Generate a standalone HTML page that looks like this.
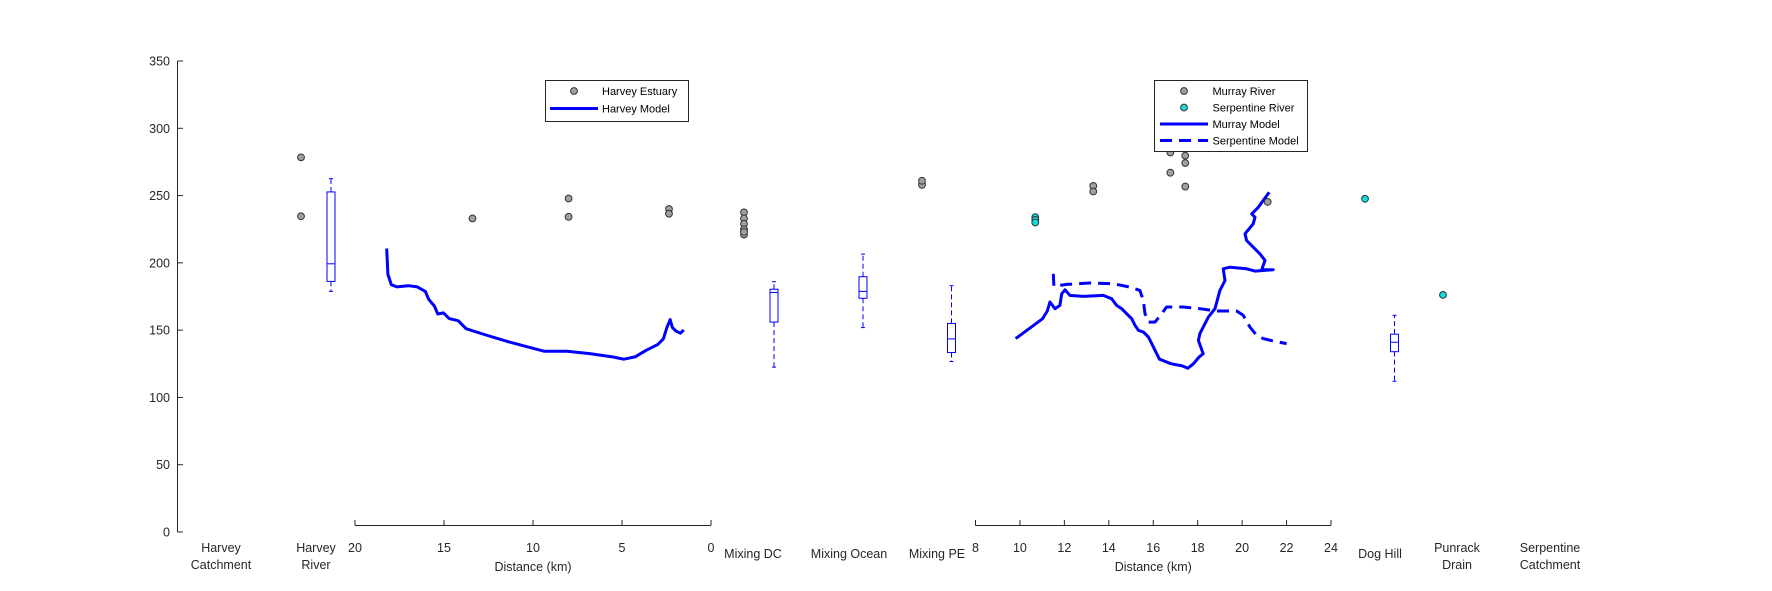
<!DOCTYPE html>
<html><head><meta charset="utf-8">
<style>
body{margin:0;background:#fff;}
svg{display:block;font-family:"Liberation Sans",Arial,sans-serif;}
</style></head>
<body>
<svg id="chart" width="1772" height="591" viewBox="0 0 1772 591" xmlns="http://www.w3.org/2000/svg">
<rect width="1772" height="591" fill="#fff"/>
<g id="axes"></g>
<g id="marks"></g>
<g id="legends"></g>
</svg>
<script>
const yTicks=[0,50,100,150,200,250,300,350];
const leftDistTicks=[20,15,10,5,0];
const rightDistTicks=[8,10,12,14,16,18,20,22,24];
const categoryLabels=[["Harvey","Catchment"],["Harvey","River"],["Mixing DC"],["Mixing Ocean"],["Mixing PE"],["Dog Hill"],["Punrack","Drain"],["Serpentine","Catchment"]];
const categoryX=[221,316,753,849,937,1380,1457,1550];
const harveyEstDist=[13.4,8.0,8.0,2.36,2.36];
const harveyEstVal=[233,247.8,234.2,240,236.5];
const harveyModelDist=[18.22,18.15,17.96,17.64,17.01,16.5,16.05,15.86,15.54,15.35,15.03,14.71,14.2,13.76,13.18,12.55,11.91,11.27,10.32,9.36,8.09,6.82,5.54,4.9,4.27,3.63,2.99,2.68,2.48,2.29,2.17,1.97,1.72,1.53];
const harveyModelVal=[210.7,191.4,183.8,182.1,183,182.1,178.8,172.9,167.9,162,162.8,158.6,157,151.1,148.6,146,143.5,141,137.6,134.3,134.3,132.6,130.1,128.4,130.1,135.1,139.3,143.5,151.9,157.8,151.9,149.4,147.7,150.2];
const murrayDist=[13.3,13.3,16.77,16.77,16.77,17.44,17.44,17.44,17.44,21.15];
const murrayVal=[257.2,253,267,282,287,286,279.7,274.2,256.7,245.3];
const serpDist=[10.69,10.69,10.69];
const serpVal=[234,232,230];
const murrayModelDist=[9.81,11.02,11.23,11.35,11.58,11.8,11.88,12.03,12.25,12.85,13.75,14.13,14.35,14.58,14.8,15.03,15.18,15.33,15.55,15.78,15.93,16.08,16.13,16.28,16.79,17.3,17.56,17.81,18.07,18.25,18.03,18.1,18.48,18.78,19.0,19.23,19.15,19.45,20.2,20.58,21.4,20.88,21.03,20.8,20.2,20.13,20.5,20.58,20.43,20.73,21.22];
const murrayModelVal=[143.7,158.5,164.2,170.9,165.9,168.4,177,180,175.8,175.1,175.8,173.3,168.4,165.9,162.2,158.5,153.6,149.9,148.6,144.9,140,135,133.4,128.4,125.1,123.4,121.7,125.1,130.1,132.5,142.4,147.4,159.8,165.9,179.5,186.9,195.6,196.8,195.6,193.9,194.9,194.9,201.8,206.7,216.6,221.6,229,233.9,236.4,241.3,252.5];
const serpModelDist=[11.5,11.53,12.1,13.15,14.2,14.95,15.4,15.55,15.63,15.78,16.08,16.38,16.6,17.35,18.1,18.85,19.75,20.05,20.35,20.65,20.95,21.4,22.0];
const serpModelVal=[191.9,182.5,184,185,184.5,182,179.5,172.1,162.2,156,156,162.2,167.2,167.2,165.9,164.2,164.2,161,152.3,146.1,143.7,141.9,140];
// category scatter points: category index, value
const catPointIdx=[1,1,2,2,2,2,2,2,4,4];
const catPointVal=[278.4,234.6,237.5,233,229,225,221,223,258,261];
const catCyanIdx=[5,6];
const catCyanVal=[247.6,176.2];
const catCyanX=[1365,1443];
const catGrayX=[301,301,744,744,744,744,744,744,922,922];
// box plots: [whiskerLow, q1, median, q3, whiskerHigh]
const boxNames=["harvey-river","mixing-dc","mixing-ocean","mixing-pe","dog-hill"];
const boxX=[331,774,863,951.5,1394.5];
const boxLow=[178.8,122.5,151.9,126.7,112];
const boxQ1=[186.2,156,173.7,133.4,134];
const boxMed=[199.3,178,178.8,143.5,141];
const boxQ3=[252.7,180.4,189.7,155,147];
const boxHigh=[262.6,186,206.5,183,161];

const NS="http://www.w3.org/2000/svg";
const yS=v=>532-v*(471/350);
const xL=d=>711-d*(356/20);
const xR=d=>975.5+(d-8)*(355.5/16);
function mk(tag,attrs,parent){const e=document.createElementNS(NS,tag);for(const k in attrs)e.setAttribute(k,attrs[k]);parent.appendChild(e);return e;}
const axes=document.getElementById('axes'),marks=document.getElementById('marks'),leg=document.getElementById('legends');

// y axis
let yl=mk('line',{x1:177.5,y1:61,x2:177.5,y2:532,stroke:'#262626','stroke-width':1},axes);


yTicks.forEach(t=>{
  let tk=mk('line',{x1:177.5,x2:183,y1:yS(t),y2:yS(t),stroke:'#262626'},axes);
  
  
  let tx=mk('text',{x:170,y:yS(t)+4.5,'text-anchor':'end','font-size':12.5,fill:'#262626'},axes);
  tx.textContent=t;
  
  
});
// distance axes
function distAxis(ticks,sc,name){
  const a=sc(ticks[0]),b=sc(ticks[ticks.length-1]);
  let l=mk('line',{x1:Math.min(a,b),x2:Math.max(a,b),y1:525.5,y2:525.5,stroke:'#262626'},axes);
  
  
  ticks.forEach(t=>{
    let tk=mk('line',{x1:sc(t),x2:sc(t),y1:525.5,y2:520,stroke:'#262626'},axes);
    
    
    let tx=mk('text',{x:sc(t),y:552,'text-anchor':'middle','font-size':12.5,fill:'#262626'},axes);
    tx.textContent=t;
    
    
  });
  let tt=mk('text',{x:(a+b)/2,y:571,'text-anchor':'middle','font-size':12.5,fill:'#262626'},axes);
  tt.textContent='Distance (km)';
  
  
}
distAxis(leftDistTicks,xL,'harvey-distance-axis');
distAxis(rightDistTicks,xR,'murray-distance-axis');
categoryLabels.forEach((lines,i)=>{
  const single=lines.length===1;
  lines.forEach((s,j)=>{
    let tx=mk('text',{x:categoryX[i],y:single?558:552+j*17,'text-anchor':'middle','font-size':12.5,fill:'#262626'},axes);
    tx.textContent=s;
    
    
  });
});

// boxes
boxX.forEach((x,i)=>{
  const g=mk('g',{},marks);
  
  
  const st={stroke:'#0000ff','stroke-width':1,fill:'none'};
  mk('line',Object.assign({x1:x,x2:x,y1:yS(boxQ3[i]),y2:yS(boxHigh[i]),'stroke-dasharray':'5,3'},st),g);
  mk('line',Object.assign({x1:x,x2:x,y1:yS(boxQ1[i]),y2:yS(boxLow[i]),'stroke-dasharray':'5,3'},st),g);
  mk('line',Object.assign({x1:x-2,x2:x+2,y1:yS(boxHigh[i]),y2:yS(boxHigh[i])},st),g);
  mk('line',Object.assign({x1:x-2,x2:x+2,y1:yS(boxLow[i]),y2:yS(boxLow[i])},st),g);
  mk('rect',Object.assign({x:x-4,y:yS(boxQ3[i]),width:8,height:yS(boxQ1[i])-yS(boxQ3[i])},st),g);
  mk('line',Object.assign({x1:x-4,x2:x+4,y1:yS(boxMed[i]),y2:yS(boxMed[i])},st),g);
});

// model lines
function poly(ds,vs,sc,name,dash){
  const pts=ds.map((d,i)=>sc(d).toFixed(1)+','+yS(vs[i]).toFixed(1)).join(' ');
  let p=mk('polyline',{points:pts,fill:'none',stroke:'#0000ff','stroke-width':3,'stroke-linejoin':'round'},marks);
  if(dash)p.setAttribute('stroke-dasharray','12,7');
  
  
}
poly(harveyModelDist,harveyModelVal,xL,'harvey-model-line',false);
poly(serpModelDist,serpModelVal,xR,'serpentine-model-line',true);
poly(murrayModelDist,murrayModelVal,xR,'murray-model-line',false);

// scatter
function dot(x,y,fill,name){
  let c=mk('circle',{cx:x,cy:y,r:3.4,fill:fill,stroke:'#333','stroke-width':1},marks);
  
  
}
catPointVal.forEach((v,i)=>dot(catGrayX[i],yS(v),'#a0a0a0','category-point'));
harveyEstDist.forEach((d,i)=>dot(xL(d),yS(harveyEstVal[i]),'#a0a0a0','harvey-estuary-point'));
murrayDist.forEach((d,i)=>dot(xR(d),yS(murrayVal[i]),'#a0a0a0','murray-river-point'));
serpDist.forEach((d,i)=>dot(xR(d),yS(serpVal[i]),'#11dddd','serpentine-river-point'));
catCyanVal.forEach((v,i)=>dot(catCyanX[i],yS(v),'#11dddd','serpentine-category-point'));

// legends
function legendBox(x,y,w,h,name){
  let g=mk('g',{},leg);
  
  
  mk('rect',{x:x,y:y,width:w,height:h,fill:'#fff',stroke:'#262626','stroke-width':1},g);
  return g;
}
function entry(g,type,mx,lx1,lx2,tx,y,text,fill){
  let e=mk('g',{},g);
  
  
  if(type==='dot')mk('circle',{cx:mx,cy:y,r:3.4,fill:fill,stroke:'#333'},e);
  else{let l=mk('line',{x1:lx1,x2:lx2,y1:y,y2:y,stroke:'#0000ff','stroke-width':3},e);if(type==='dash')l.setAttribute('stroke-dasharray','12,7');}
  let t=mk('text',{x:tx,y:y+4,'font-size':11,fill:'#000'},e);
  t.textContent=text;
}
let g1=legendBox(545.5,80.5,143,41,'harvey-legend');
entry(g1,'dot',574,0,0,602,91,'Harvey Estuary','#a0a0a0');
entry(g1,'line',0,550,598,602,108.5,'Harvey Model');
let g2=legendBox(1154.5,80.5,153,71,'murray-legend');
entry(g2,'dot',1184,0,0,1212.5,91,'Murray River','#a0a0a0');
entry(g2,'dot',1184,0,0,1212.5,107.5,'Serpentine River','#11dddd');
entry(g2,'line',0,1160,1208,1212.5,124,'Murray Model');
entry(g2,'dash',0,1160,1208,1212.5,140.5,'Serpentine Model');
</script>
</body></html>
